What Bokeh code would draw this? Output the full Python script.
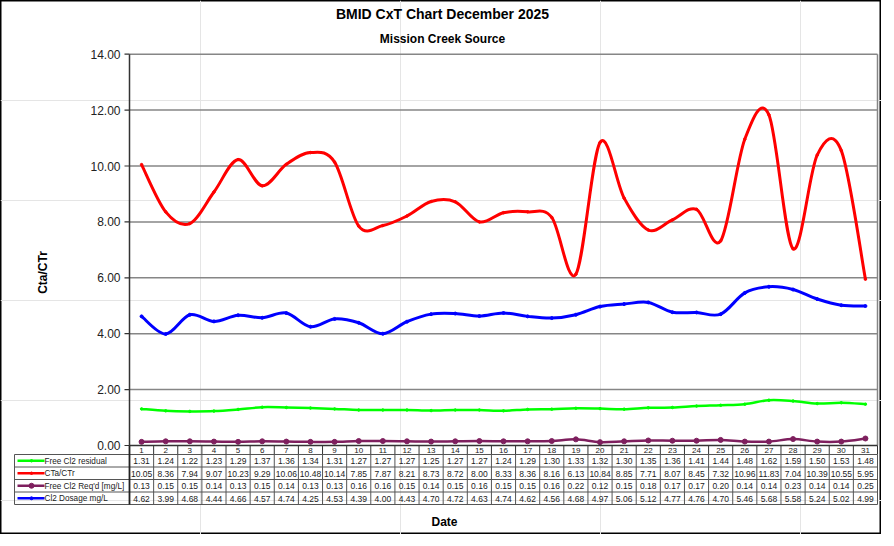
import numpy as np
from bokeh.plotting import figure
from bokeh.models import Range1d
from bokeh.embed import file_html
from bokeh.resources import INLINE
from bokeh.core.properties import value

# ---------------- data ----------------
days = list(range(1, 32))
free_cl2_residual = [1.31, 1.24, 1.22, 1.23, 1.29, 1.37, 1.36, 1.34, 1.31, 1.27, 1.27, 1.27, 1.25, 1.27, 1.27, 1.24,
                     1.29, 1.30, 1.33, 1.32, 1.30, 1.35, 1.36, 1.41, 1.44, 1.48, 1.62, 1.59, 1.50, 1.53, 1.48]
cta_ctr = [10.05, 8.36, 7.94, 9.07, 10.23, 9.29, 10.06, 10.48, 10.14, 7.85, 7.87, 8.21, 8.73, 8.72, 8.00, 8.33,
           8.36, 8.16, 6.13, 10.84, 8.85, 7.71, 8.07, 8.45, 7.32, 10.96, 11.83, 7.04, 10.39, 10.55, 5.95]
free_cl2_reqd = [0.13, 0.15, 0.15, 0.14, 0.13, 0.15, 0.14, 0.13, 0.13, 0.16, 0.16, 0.15, 0.14, 0.15, 0.16, 0.15,
                 0.15, 0.16, 0.22, 0.12, 0.15, 0.18, 0.17, 0.17, 0.20, 0.14, 0.14, 0.23, 0.14, 0.14, 0.25]
cl2_dosage = [4.62, 3.99, 4.68, 4.44, 4.66, 4.57, 4.74, 4.25, 4.53, 4.39, 4.00, 4.43, 4.70, 4.72, 4.63, 4.74,
              4.62, 4.56, 4.68, 4.97, 5.06, 5.12, 4.77, 4.76, 4.70, 5.46, 5.68, 5.58, 5.24, 5.02, 4.99]
series_names = ["Free Cl2 residual", "CTa/CTr", "Free Cl2 Req'd [mg/L]", "Cl2 Dosage mg/L"]
y_ticks = [0, 2, 4, 6, 8, 10, 12, 14]
y_tick_labels = ["0.00", "2.00", "4.00", "6.00", "8.00", "10.00", "12.00", "14.00"]
title_text = "BMID CxT Chart December 2025"
subtitle_text = "Mission Creek Source"
x_title = "Date"
y_title = "Cta/CTr"

series = [free_cl2_residual, cta_ctr, free_cl2_reqd, cl2_dosage]
colors = ["#00FF00", "#FF0000", "#7E1F5E", "#0000FF"]
widths = [2.5, 3, 2.5, 3]
marker_sizes = [2.5, 2.5, 5, 3]

# ---------------- geometry (canvas px) ----------------
W, H = 881, 534
PL, PR = 129, 877          # plot area left/right
PT, PB = 53.7, 445         # plot area top/bottom
HDR_B = 454                # header row bottom
ROW_H = 12.5
TAB_B = HDR_B + 4 * ROW_H
LEG_L = 14
FONT = value("Liberation Sans")

ndays = len(days)
dx = (PR - PL) / ndays
dy = (PB - PT) / (y_ticks[-1] - y_ticks[0])
d0, d1 = days[0] - 0.5, days[-1] + 0.5
v0, v1 = y_ticks[0], y_ticks[-1]

p = figure(width=W, height=H, output_backend="svg", toolbar_location=None,
           x_range=Range1d(0, W), y_range=Range1d(H, 0),
           x_axis_location=None, y_axis_location=None, min_border=0,
           background_fill_color="white", border_fill_color="white",
           outline_line_color="black", outline_line_width=2)
p.extra_x_ranges = {"day": Range1d(d0 - PL / dx, d1 + (W - PR) / dx)}
p.extra_y_ranges = {"val": Range1d(v0 - (H - PB) / dy, v1 + PT / dy)}

# gridlines
p.segment(x0=[d0] * (len(y_ticks) - 1), x1=[d1] * (len(y_ticks) - 1), y0=y_ticks[1:], y1=y_ticks[1:],
          x_range_name="day", y_range_name="val", line_color="#868686", line_width=1.5)
# right border of plot area
p.segment(x0=[d1], x1=[d1], y0=[v0], y1=[v1], x_range_name="day", y_range_name="val",
          line_color="#868686", line_width=1.5)

# series (smoothed like Excel: Catmull-Rom -> cubic bezier)
def bez(xs, ys):
    x = np.asarray(xs, float)
    y = np.asarray(ys, float)
    n = len(x)
    xp = np.concatenate([[x[0]], x, [x[-1]]])
    yp = np.concatenate([[y[0]], y, [y[-1]]])
    cx0 = x[:-1] + (xp[2:n + 1] - xp[0:n - 1]) / 6
    cy0 = y[:-1] + (yp[2:n + 1] - yp[0:n - 1]) / 6
    cx1 = x[1:] - (xp[3:n + 2] - xp[1:n]) / 6
    cy1 = y[1:] - (yp[3:n + 2] - yp[1:n]) / 6
    return dict(x0=x[:-1], y0=y[:-1], x1=x[1:], y1=y[1:], cx0=cx0, cy0=cy0, cx1=cx1, cy1=cy1)

for vals, c, w, ms in zip(series, colors, widths, marker_sizes):
    p.bezier(**bez(days, vals), x_range_name="day", y_range_name="val", line_color=c, line_width=w)
    p.scatter(x=days, y=vals, x_range_name="day", y_range_name="val", size=ms,
              fill_color=c, line_color=c, marker="circle")

# axes
p.segment(x0=[d0], x1=[d0], y0=[v0], y1=[v1], x_range_name="day", y_range_name="val",
          line_color="#333333", line_width=1.5)
p.segment(x0=[d0], x1=[d1], y0=[v0], y1=[v0], x_range_name="day", y_range_name="val",
          line_color="#333333", line_width=1.5)
p.segment(x0=[PL - 5] * len(y_ticks), x1=[PL] * len(y_ticks), y0=y_ticks, y1=y_ticks,
          y_range_name="val", line_color="#333333", line_width=1.2)
p.text(x=[PL - 9] * len(y_ticks), y=y_ticks, text=y_tick_labels, y_range_name="val",
       text_font=FONT, text_font_size="12px", text_align="right", text_baseline="middle", text_color="#222222")

# table: header ticks and day numbers
bounds = [d + 0.5 for d in days]
p.segment(x0=bounds, x1=bounds, y0=[PB] * ndays, y1=[HDR_B] * ndays, x_range_name="day",
          line_color="#333333", line_width=1)
p.text(x=days, y=[(PB + HDR_B) / 2 + 0.5] * ndays, text=[str(d) for d in days], x_range_name="day",
       text_font=FONT, text_font_size="8px", text_align="center", text_baseline="middle", text_color="#222222")

# table: grid
row_edges = [HDR_B + i * ROW_H for i in range(5)]
p.segment(x0=[LEG_L] * 5, x1=[PR] * 5, y0=row_edges, y1=row_edges, line_color="#555555", line_width=1)
p.segment(x0=bounds, x1=bounds, y0=[HDR_B] * ndays, y1=[TAB_B] * ndays, x_range_name="day",
          line_color="#555555", line_width=1)
p.segment(x0=[LEG_L], x1=[LEG_L], y0=[HDR_B], y1=[TAB_B], line_color="#555555", line_width=1)
p.segment(x0=[PL], x1=[PL], y0=[PB], y1=[TAB_B], line_color="#222222", line_width=1.8)

# table: values and legend keys
for i, (vals, c, name, ms) in enumerate(zip(series, colors, series_names, marker_sizes)):
    yc = HDR_B + (i + 0.5) * ROW_H
    p.text(x=days, y=[yc + 0.5] * ndays, text=["%.2f" % v for v in vals], x_range_name="day",
           text_font=FONT, text_font_size="8.5px", text_align="center", text_baseline="middle",
           text_color="#222222")
    p.segment(x0=[LEG_L + 3], x1=[LEG_L + 30], y0=[yc], y1=[yc], line_color=c, line_width=2.5)
    p.scatter(x=[LEG_L + 17], y=[yc], size=ms, fill_color=c, line_color=c, marker="circle")
    p.text(x=[LEG_L + 30], y=[yc + 0.5], text=[name], text_font=FONT, text_font_size="8.2px",
           text_align="left", text_baseline="middle", text_color="#222222")

# titles
p.text(x=[442], y=[13], text=[title_text], text_font=FONT, text_font_style="bold", text_font_size="14px",
       text_align="center", text_baseline="middle", text_color="black")
p.text(x=[442], y=[38], text=[subtitle_text], text_font=FONT, text_font_style="bold", text_font_size="12px",
       text_align="center", text_baseline="middle", text_color="black")
p.text(x=[444], y=[521], text=[x_title], text_font=FONT, text_font_style="bold", text_font_size="12px",
       text_align="center", text_baseline="middle", text_color="black")
p.text(x=[42], y=[272], text=[y_title], angle=np.pi / 2, text_font=FONT, text_font_style="bold",
       text_font_size="12px", text_align="center", text_baseline="middle", text_color="black")

open("out.html", "w").write(file_html(p, INLINE))
